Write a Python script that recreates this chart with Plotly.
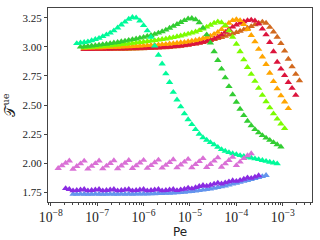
import plotly.graph_objects as go

# shared grid of log10(Pe) values
LOG_PE = [-7.84, -7.76, -7.68, -7.60, -7.52, -7.44, -7.36, -7.28, -7.20, -7.12,
          -7.04, -6.96, -6.88, -6.80, -6.72, -6.64, -6.56, -6.48, -6.40, -6.32,
          -6.24, -6.16, -6.08, -6.00, -5.92, -5.84, -5.76, -5.68, -5.60, -5.52,
          -5.44, -5.36, -5.28, -5.20, -5.12, -5.04, -4.96, -4.88, -4.80, -4.72,
          -4.64, -4.56, -4.48, -4.40, -4.32, -4.24, -4.16, -4.08, -4.00, -3.92,
          -3.84, -3.76, -3.68, -3.60, -3.52, -3.44, -3.36, -3.28, -3.20, -3.12,
          -3.04, -2.96, -2.88, -2.80, -2.72, -2.64, -2.56]

springgreen_start = 5
springgreen = [3.030, 3.035, 3.040, 3.045, 3.055, 3.065, 3.075, 3.090, 3.105, 3.120, 3.140, 3.165, 3.190, 3.215,
               3.240, 3.255, 3.250, 3.225, 3.185, 3.140, 3.085, 3.010, 2.930, 2.855, 2.770, 2.695, 2.610, 2.545,
               2.485, 2.425, 2.375, 2.333, 2.290, 2.250, 2.220, 2.198, 2.178, 2.158, 2.137, 2.118, 2.103, 2.092,
               2.082, 2.074, 2.066, 2.059, 2.052, 2.045, 2.038, 2.031, 2.024, 2.016, 2.009, 2.002, 1.995]

limegreen_start = 6
limegreen = [3.000, 3.003, 3.006, 3.009, 3.013, 3.017, 3.021, 3.025, 3.030, 3.035, 3.040, 3.046, 3.052, 3.058,
             3.064, 3.070, 3.077, 3.084, 3.092, 3.100, 3.110, 3.120, 3.132, 3.146, 3.162, 3.178, 3.195, 3.212,
             3.228, 3.242, 3.246, 3.235, 3.210, 3.165, 3.105, 3.035, 2.960, 2.885, 2.810, 2.735, 2.660, 2.590,
             2.525, 2.465, 2.410, 2.362, 2.323, 2.290, 2.262, 2.238, 2.216, 2.197, 2.178, 2.160, 2.140]

lawngreen_start = 7
lawngreen = [2.995, 2.997, 2.999, 3.001, 3.003, 3.006, 3.009, 3.012, 3.015, 3.018, 3.021, 3.025, 3.028, 3.032,
             3.036, 3.040, 3.044, 3.048, 3.052, 3.056, 3.060, 3.065, 3.070, 3.076, 3.082, 3.089, 3.096, 3.104,
             3.112, 3.121, 3.130, 3.142, 3.156, 3.172, 3.188, 3.205, 3.217, 3.210, 3.185, 3.140, 3.085, 3.025,
             2.960, 2.890, 2.825, 2.765, 2.705, 2.645, 2.585, 2.530, 2.477, 2.425, 2.380, 2.338, 2.298]

orange_start = 7
orange = [2.990, 2.991, 2.992, 2.993, 2.994, 2.995, 2.996, 2.997, 2.998, 2.999, 3.000, 3.002, 3.003, 3.005,
          3.007, 3.009, 3.011, 3.013, 3.015, 3.017, 3.019, 3.021, 3.024, 3.027, 3.030, 3.033, 3.037, 3.041,
          3.046, 3.051, 3.057, 3.064, 3.073, 3.083, 3.095, 3.110, 3.127, 3.150, 3.178, 3.205, 3.228, 3.237,
          3.228, 3.195, 3.150, 3.100, 3.045, 2.980, 2.915, 2.850, 2.775, 2.703, 2.640, 2.580, 2.528, 2.470]

crimson_start = 7
crimson = [2.982, 2.982, 2.982, 2.983, 2.983, 2.983, 2.984, 2.984, 2.985, 2.985, 2.986, 2.986, 2.987, 2.987,
           2.988, 2.989, 2.990, 2.991, 2.992, 2.993, 2.995, 2.997, 2.999, 3.001, 3.004, 3.007, 3.010, 3.014,
           3.018, 3.023, 3.028, 3.034, 3.041, 3.050, 3.060, 3.072, 3.087, 3.105, 3.128, 3.152, 3.172, 3.190,
           3.205, 3.218, 3.228, 3.232, 3.225, 3.198, 3.155, 3.105, 3.040, 2.960, 2.870, 2.810, 2.755, 2.695,
           2.645, 2.585]

chocolate_start = 7
chocolate = [2.978, 2.978, 2.978, 2.979, 2.979, 2.979, 2.980, 2.980, 2.980, 2.981, 2.981, 2.982, 2.982, 2.983,
             2.984, 2.985, 2.986, 2.987, 2.988, 2.989, 2.991, 2.993, 2.995, 2.997, 3.000, 3.003, 3.007, 3.011,
             3.016, 3.021, 3.027, 3.033, 3.040, 3.048, 3.056, 3.065, 3.074, 3.083, 3.093, 3.103, 3.114, 3.125,
             3.136, 3.148, 3.162, 3.176, 3.191, 3.205, 3.215, 3.205, 3.170, 3.130, 3.085, 3.030, 2.965, 2.895,
             2.830, 2.765, 2.710]

orchid_start = 0
orchid = [1.955, 1.978, 2.000, 2.020, 1.948, 1.972, 1.995, 2.018, 1.950, 1.973, 1.997, 2.020, 1.952, 1.975,
          1.998, 2.022, 1.953, 1.977, 2.000, 2.024, 1.955, 1.978, 2.002, 2.025, 1.956, 1.980, 2.004, 2.027,
          1.958, 1.982, 2.006, 2.030, 1.960, 1.985, 2.010, 2.034, 1.962, 1.988, 2.014, 2.040, 1.964, 1.990,
          2.018, 2.046, 1.966, 1.995, 2.024, 2.052, 1.980, 2.010, 2.040, 2.065, 2.082]

blueviolet_start = 2
blueviolet = [1.782, 1.774,
              1.762, 1.766, 1.770, 1.774, 1.762, 1.766, 1.770, 1.774, 1.762, 1.766, 1.770, 1.774,
              1.762, 1.766, 1.770, 1.774, 1.762, 1.766, 1.770, 1.774, 1.762, 1.766, 1.770, 1.774,
              1.762, 1.766, 1.770, 1.774, 1.765, 1.771, 1.776, 1.786, 1.780, 1.790, 1.800, 1.809,
              1.802, 1.811, 1.820, 1.829, 1.822, 1.831, 1.840, 1.850, 1.844, 1.853, 1.863, 1.874,
              1.870, 1.881, 1.893]

cornflower_start = 4
cornflower = [1.733, 1.732, 1.734, 1.733, 1.732, 1.733, 1.734, 1.733, 1.732, 1.733, 1.734, 1.733, 1.733,
              1.734, 1.733, 1.734, 1.733, 1.734, 1.735, 1.735, 1.736, 1.737, 1.738, 1.739, 1.740, 1.741,
              1.742, 1.744, 1.746, 1.748, 1.750, 1.754, 1.757, 1.761, 1.765, 1.769, 1.773, 1.778, 1.784,
              1.790, 1.797, 1.804, 1.812, 1.820, 1.828, 1.836, 1.844, 1.852, 1.860, 1.868, 1.876, 1.885,
              1.895]

series = [
    (chocolate_start, chocolate, "#D2691E"),
    (crimson_start, crimson, "#DC143C"),
    (orange_start, orange, "#FFA500"),
    (lawngreen_start, lawngreen, "#7CFC00"),
    (limegreen_start, limegreen, "#32CD32"),
    (springgreen_start, springgreen, "#00FA9A"),
    (orchid_start, orchid, "#DA70D6"),
    (cornflower_start, cornflower, "#6495ED"),
    (blueviolet_start, blueviolet, "#8A2BE2"),
]

fig = go.Figure()
for start, ys, color in series:
    xs = [10 ** e for e in LOG_PE[start:start + len(ys)]]
    fig.add_trace(go.Scatter(x=xs, y=ys[:len(xs)], mode="markers", hoverinfo="skip",
                             marker=dict(symbol="triangle-up", size=6.5, color=color,
                                         line=dict(width=0))))

axis_color = "#444444"
fig.update_layout(
    width=320, height=240,
    margin=dict(l=46, r=8, t=7, b=38),
    plot_bgcolor="white", paper_bgcolor="white",
    showlegend=False,
    font=dict(family="Liberation Serif", size=11, color="#222222"),
)
fig.update_xaxes(
    type="log", range=[-8.06, -2.37], dtick=1, exponentformat="power",
    showgrid=False, zeroline=False,
    showline=True, mirror=True, linecolor=axis_color, linewidth=1,
    ticks="outside", ticklen=3, tickcolor=axis_color,
    minor=dict(ticks="outside", ticklen=2, tickcolor=axis_color, showgrid=False),
    title=dict(text="Pe", font=dict(family="DejaVu Sans", size=12, color="#222222"), standoff=0),
)
fig.update_yaxes(
    range=[1.665, 3.335], tick0=1.75, dtick=0.25, tickformat=".2f",
    showgrid=False, zeroline=False,
    showline=True, mirror=True, linecolor=axis_color, linewidth=1,
    ticks="outside", ticklen=3, tickcolor=axis_color,
    title=dict(text="𝒯<sup>ue</sup>", font=dict(family="DejaVu Serif", size=14, color="#222222"), standoff=6),
)

fig.write_html("out.html", config={"displayModeBar": False, "staticPlot": True},
               post_script="document.body.style.margin='0';")
